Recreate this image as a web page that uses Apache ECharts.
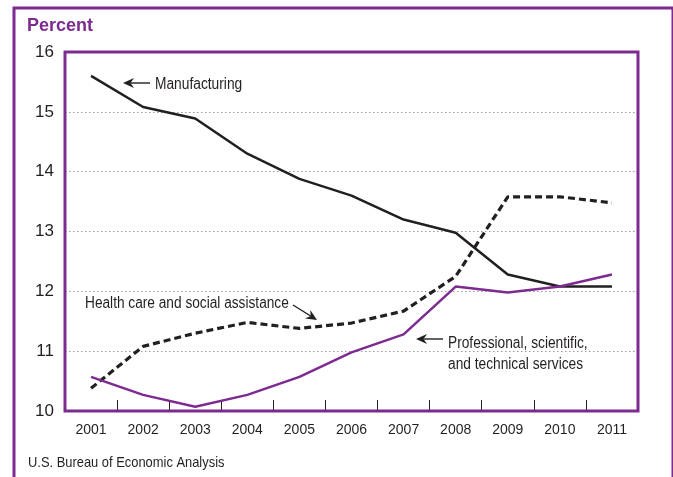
<!DOCTYPE html>
<html><head><meta charset="utf-8">
<script src="https://cdn.jsdelivr.net/npm/echarts@6/dist/echarts.min.js"></script>
<style>html,body{margin:0;padding:0;background:#fff}#c{width:673px;height:477px}</style>
</head><body><div id="c"></div>
<script>
const years = ['2001','2002','2003','2004','2005','2006','2007','2008','2009','2010','2011'];
const manufacturing = [15.6, 15.08, 14.89, 14.3, 13.88, 13.6, 13.2, 12.98, 12.28, 12.08, 12.08];
const healthCare = [10.38, 11.08, 11.3, 11.48, 11.38, 11.47, 11.67, 12.25, 13.58, 13.58, 13.48];
const professional = [10.57, 10.27, 10.07, 10.27, 10.57, 10.98, 11.28, 12.08, 11.98, 12.08, 12.28];
const yTicks = [10, 11, 12, 13, 14, 15, 16];

const PURPLE = '#7d2a91';
const INK = '#231f20';
const SANS = '"Liberation Sans",Arial,Helvetica,sans-serif';

function arrow(x1, y1, x2, y2) {
  const ang = Math.atan2(y2 - y1, x2 - x1);
  const L = 11, W = 5, N = 7.5;
  const bx = x2 - L * Math.cos(ang), by = y2 - L * Math.sin(ang);
  const px = -Math.sin(ang), py = Math.cos(ang);
  const nx = x2 - N * Math.cos(ang), ny = y2 - N * Math.sin(ang);
  return [
    { type: 'line', shape: { x1: x1, y1: y1, x2: nx, y2: ny }, style: { stroke: INK, lineWidth: 1.4 }, z: 100 },
    { type: 'polygon', shape: { points: [[x2, y2], [bx + px * W, by + py * W], [nx, ny], [bx - px * W, by - py * W]] }, style: { fill: INK }, z: 100 }
  ];
}

function label(text, x, y, size, sx, lh) {
  return { type: 'text', x: x, y: y, scaleX: sx, z: 50,
    style: { text: text, fill: INK, font: size + 'px ' + SANS, lineHeight: lh || size * 1.2, textVerticalAlign: 'top', textAlign: 'left' } };
}

const chart = echarts.init(document.getElementById('c'), null, { renderer: 'canvas' });
chart.setOption({
  animation: false,
  backgroundColor: '#fff',
  grid: { left: 65, top: 52, right: 35, bottom: 66, show: true, borderColor: PURPLE, borderWidth: 3, backgroundColor: 'transparent', z: 10 },
  xAxis: {
    type: 'category', data: years, boundaryGap: true,
    axisLine: { show: false },
    axisTick: { show: true, inside: true, length: 11, lineStyle: { color: INK, width: 1 } },
    axisLabel: { margin: 12, fontSize: 14, color: INK, fontFamily: SANS },
    splitLine: { show: false }
  },
  yAxis: {
    type: 'value', min: yTicks[0], max: yTicks[yTicks.length - 1], interval: 1,
    axisLine: { show: false }, axisTick: { show: false },
    axisLabel: { margin: 11, fontSize: 17, color: INK, fontFamily: SANS },
    splitLine: { show: true, lineStyle: { color: '#9a9a9a', type: [1.5, 2.5], width: 1 } }
  },
  series: [
    { name: 'Manufacturing', type: 'line', data: manufacturing, showSymbol: false, symbol: 'none',
      lineStyle: { color: INK, width: 2.5 }, z: 3 },
    { name: 'Health care and social assistance', type: 'line', data: healthCare, showSymbol: false, symbol: 'none',
      lineStyle: { color: INK, width: 3.2, type: [7, 4] }, z: 2 },
    { name: 'Professional, scientific, and technical services', type: 'line', data: professional, showSymbol: false, symbol: 'none',
      lineStyle: { color: PURPLE, width: 2.5 }, z: 4 }
  ],
  graphic: [
    { type: 'rect', shape: { x: 14, y: 8, width: 659, height: 520 }, style: { fill: 'none', stroke: PURPLE, lineWidth: 3 }, z: 50 },
    { type: 'text', x: 27, y: 17, z: 50, style: { text: 'Percent', fill: PURPLE, font: 'bold 18px ' + SANS, textVerticalAlign: 'top' } },
    label('Manufacturing', 155, 75, 16, 0.86),
    label('Health care and social assistance', 85, 294, 16, 0.855),
    label('Professional, scientific,\nand technical services', 448, 333, 16, 0.858, 21),
    label('U.S. Bureau of Economic Analysis', 28, 454, 15, 0.86),
    ...arrow(150, 83, 123, 83),
    ...arrow(293, 305, 317, 320),
    ...arrow(443, 339, 416, 339)
  ]
});
</script></body></html>
